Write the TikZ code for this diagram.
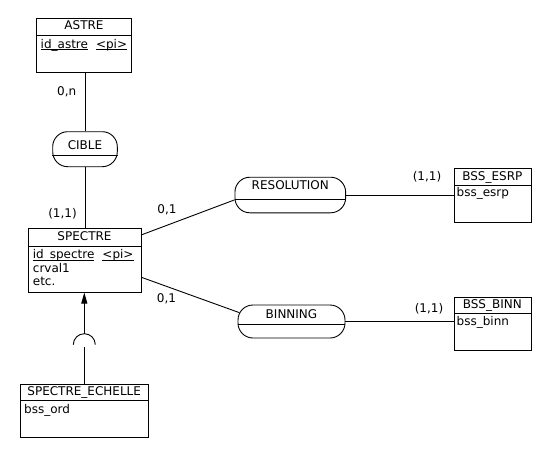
\documentclass[tikz,border=0pt]{standalone}
\usepackage{fontspec}
\setmainfont{DejaVu Sans}
\usetikzlibrary{arrows.meta}
\newcommand\ulinex[1]{\setbox0\hbox{#1}\rlap{\rule[-1.8pt]{\wd0}{0.7pt}}\box0}
\begin{document}
\begin{tikzpicture}[x=1pt,y=-1pt,
  every node/.style={font=\fontsize{12}{14}\selectfont},
  box/.style={draw, line width=0.9pt, inner sep=0, anchor=north west},
  rel/.style={draw, line width=0.9pt, rounded corners=15pt, inner sep=0},
  txt/.style={inner sep=0, text height=8.8pt, text depth=2.4pt},
  lnk/.style={line width=0.9pt},
]
\useasboundingbox (0,0) rectangle (554,455);

% ---------- entities ----------
\node[box, minimum width=94.7pt, minimum height=54.5pt] (astre) at (36,17.5) {};
\draw[lnk] ([yshift=-17.5pt]astre.north west) -- ([yshift=-17.5pt]astre.north east);
\node[txt] (astreT) at (84,26.5) {ASTRE};
\node[txt, anchor=west] (astreA) at (40.5,45) {\ulinex{id\_astre}\hspace{8pt}\ulinex{<pi>}};

\node[box, minimum width=112.4pt, minimum height=64.2pt] (spectre) at (28.3,227.5) {};
\draw[lnk] ([yshift=-19.2pt]spectre.north west) -- ([yshift=-19.2pt]spectre.north east);
\node[txt] (spectreT) at (84.5,237) {SPECTRE};
\node[txt, anchor=west] (spectreA1) at (32.7,255.5) {\ulinex{id\_spectre}\hspace{8pt}\ulinex{<pi>}};
\node[txt, anchor=west] (spectreA2) at (32.7,269) {crval1};
\node[txt, anchor=west] (spectreA3) at (32.7,282.5) {etc.};

\node[box, minimum width=128.3pt, minimum height=53pt] (echelle) at (20,384) {};
\draw[lnk] ([yshift=-16.7pt]echelle.north west) -- ([yshift=-16.7pt]echelle.north east);
\node[txt] (echelleT) at (84.2,392.5) {SPECTRE\_ECHELLE};
\node[txt, anchor=west] (echelleA) at (24,410) {bss\_ord};

\node[box, minimum width=76.7pt, minimum height=53.4pt] (esrp) at (454,168.3) {};
\draw[lnk] ([yshift=-17.4pt]esrp.north west) -- ([yshift=-17.4pt]esrp.north east);
\node[txt] (esrpT) at (492.3,176.8) {BSS\_ESRP};
\node[txt, anchor=west] (esrpA) at (456.5,193.5) {bss\_esrp};

\node[box, minimum width=76.7pt, minimum height=53.4pt] (binn) at (454,296.5) {};
\draw[lnk] ([yshift=-16.5pt]binn.north west) -- ([yshift=-16.5pt]binn.north east);
\node[txt] (binnT) at (492.3,304.8) {BSS\_BINN};
\node[txt, anchor=west] (binnA) at (456.5,322) {bss\_binn};

% ---------- relations ----------
\node[rel, minimum width=64.6pt, minimum height=35pt] (cible) at (85,149.2) {};
\draw[lnk] ([yshift=-5.8pt]cible.west) -- ([yshift=-5.8pt]cible.east);
\node[txt] (cibleT) at (85,146) {CIBLE};

\node[rel, minimum width=110.7pt, minimum height=35.6pt] (resolution) at (290.3,195) {};
\draw[lnk] ([yshift=-4.3pt]resolution.west) -- ([yshift=-4.3pt]resolution.east);
\node[txt] (resolutionT) at (290.3,186.5) {RESOLUTION};

\node[rel, minimum width=107pt, minimum height=33pt] (binning) at (291.5,321.5) {};
\draw[lnk] ([yshift=-2.8pt]binning.west) -- ([yshift=-2.8pt]binning.east);
\node[txt] (binningT) at (291.5,315) {BINNING};

% ---------- connectors ----------
\draw[lnk] (astre.south -| cible.north) -- (cible.north);
\draw[lnk] (cible.south) -- (cible.south |- spectre.north);
\draw[lnk] (spectre.24) -- (resolution.185);
\draw[lnk] (resolution.east) -- (resolution.east -| esrp.west);
\draw[lnk, shorten >=-2pt] (spectre.-17) -- (binning.170);
\draw[lnk] (binning.east) -- (binning.east -| binn.west);

% ---------- cardinalities ----------
\node[txt] (c1) at (66.7,92.3) {0,n};
\node[txt] (c2) at (62.5,214) {(1,1)};
\node[txt] (c3) at (167,210) {0,1};
\node[txt] (c4) at (166.5,299) {0,1};
\node[txt] (c5) at (427,177) {(1,1)};
\node[txt] (c6) at (429,309) {(1,1)};

% ---------- inheritance ----------
\coordinate (inhc) at (84.3,344.7);
\coordinate (inhtop) at (84.3,333.7);
\coordinate (inhbot) at (84.3,346.5);
\draw[lnk] ([xshift=-11pt]inhc) arc[start angle=180, end angle=360, radius=11];
\draw[lnk, -{Triangle[length=11pt,width=6pt]}] (inhtop) -- (inhtop |- spectre.south);
\draw[lnk] (echelle.north -| inhbot) -- (inhbot);
\end{tikzpicture}
\end{document}
